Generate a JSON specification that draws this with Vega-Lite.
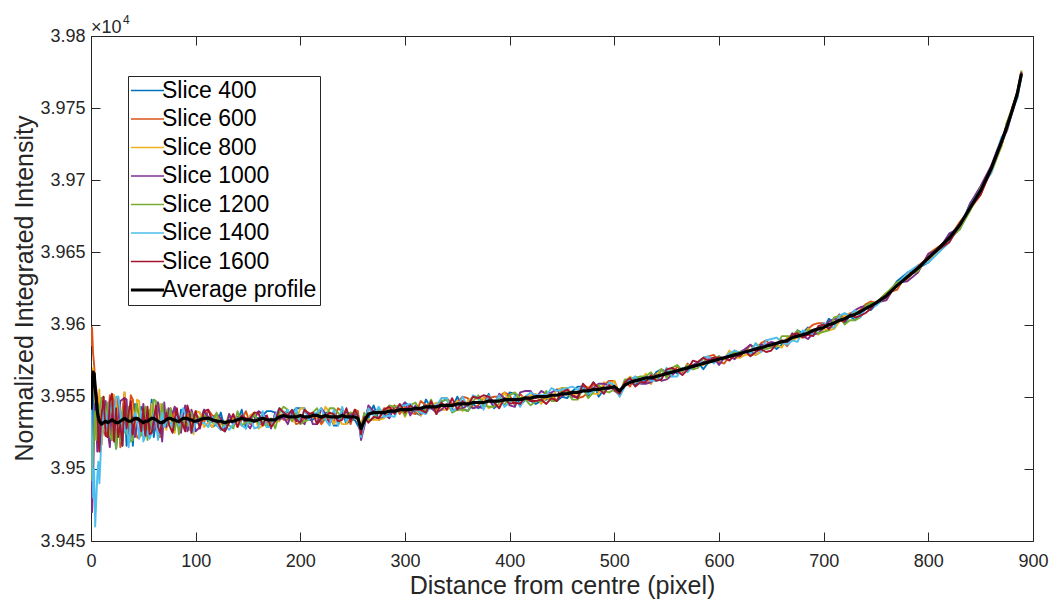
{
"$schema": "https://vega.github.io/schema/vega-lite/v6.json",
"width": 942, "height": 505,
"autosize": {"type": "none"},
"padding": {"left": 91, "top": 36, "right": 17, "bottom": 59},
"background": "white",
"config": {"font": "Liberation Sans", "view": {"stroke": "#262626", "strokeWidth": 1}, "axis": {"grid": false, "domain": false, "tickColor": "#262626", "tickWidth": 1, "labelColor": "#262626", "titleColor": "#262626", "labelFontSize": 18, "titleFontSize": 25, "titleFontWeight": "normal"}},
"data": {"values": [
{"x":0,"s400":39530,"s600":39585,"s800":39545,"s1000":39520,"s1200":39535,"s1400":39545,"s1600":39550,"avg":39541},
{"x":1,"s400":39515,"s600":39598,"s800":39560,"s1000":39470,"s1200":39492,"s1400":39520,"s1600":39565,"avg":39560},
{"x":2,"s400":39548,"s600":39580,"s800":39570,"s1000":39490,"s1200":39510,"s1400":39480,"s1600":39567,"avg":39567},
{"x":3,"s400":39560,"s600":39572,"s800":39555,"s1000":39530,"s1200":39525,"s1400":39500,"s1600":39566,"avg":39566},
{"x":4,"s400":39540,"s600":39560,"s800":39545,"s1000":39545,"s1200":39540,"s1400":39460,"s1600":39558,"avg":39556},
{"x":5,"s400":39525,"s600":39545,"s800":39530,"s1000":39535,"s1200":39520,"s1400":39478,"s1600":39555,"avg":39548},
{"x":6,"s400":39550,"s600":39538,"s800":39520,"s1000":39512,"s1200":39528,"s1400":39495,"s1600":39548,"avg":39540},
{"x":7,"s400":39530,"s600":39548,"s800":39540,"s1000":39520,"s1200":39545,"s1400":39505,"s1600":39520,"avg":39536},
{"x":8,"s400":39518,"s600":39530,"s800":39555,"s1000":39530,"s1200":39538,"s1400":39490,"s1600":39512,"avg":39533},
{"x":10,"s400":39517,"s600":39529,"s800":39517,"s1000":39533,"s1200":39549,"s1400":39521,"s1600":39537,"avg":39531},
{"x":12,"s400":39534,"s600":39526,"s800":39534,"s1000":39546,"s1200":39550,"s1400":39542,"s1600":39550,"avg":39532},
{"x":14,"s400":39527,"s600":39523,"s800":39527,"s1000":39547,"s1200":39531,"s1400":39539,"s1600":39523,"avg":39533},
{"x":16,"s400":39538,"s600":39530,"s800":39526,"s1000":39526,"s1200":39546,"s1400":39526,"s1600":39522,"avg":39532},
{"x":18,"s400":39543,"s600":39551,"s800":39535,"s1000":39515,"s1200":39523,"s1400":39547,"s1600":39547,"avg":39533},
{"x":20,"s400":39532,"s600":39520,"s800":39552,"s1000":39544,"s1200":39520,"s1400":39540,"s1600":39552,"avg":39534},
{"x":22,"s400":39527,"s600":39551,"s800":39551,"s1000":39527,"s1200":39543,"s1400":39535,"s1600":39519,"avg":39533},
{"x":24,"s400":39514,"s600":39534,"s800":39546,"s1000":39522,"s1200":39514,"s1400":39550,"s1600":39542,"avg":39532},
{"x":26,"s400":39530,"s600":39550,"s800":39530,"s1000":39530,"s1200":39534,"s1400":39550,"s1600":39522,"avg":39532},
{"x":28,"s400":39527,"s600":39515,"s800":39543,"s1000":39547,"s1200":39519,"s1400":39539,"s1600":39531,"avg":39533},
{"x":30,"s400":39516,"s600":39540,"s800":39524,"s1000":39548,"s1200":39540,"s1400":39524,"s1600":39516,"avg":39534},
{"x":32,"s400":39549,"s600":39553,"s800":39553,"s1000":39549,"s1200":39541,"s1400":39525,"s1600":39549,"avg":39535},
{"x":34,"s400":39516,"s600":39528,"s800":39532,"s1000":39548,"s1200":39524,"s1400":39536,"s1600":39528,"avg":39534},
{"x":36,"s400":39531,"s600":39523,"s800":39519,"s1000":39519,"s1200":39543,"s1400":39515,"s1600":39539,"avg":39533},
{"x":38,"s400":39543,"s600":39551,"s800":39547,"s1000":39523,"s1200":39519,"s1400":39531,"s1600":39547,"avg":39533},
{"x":40,"s400":39516,"s600":39548,"s800":39540,"s1000":39536,"s1200":39520,"s1400":39528,"s1600":39524,"avg":39534},
{"x":42,"s400":39545,"s600":39528,"s800":39531,"s1000":39522,"s1200":39539,"s1400":39539,"s1600":39534,"avg":39535},
{"x":44,"s400":39542,"s600":39522,"s800":39548,"s1000":39531,"s1200":39545,"s1400":39534,"s1600":39534,"avg":39535},
{"x":46,"s400":39538,"s600":39521,"s800":39547,"s1000":39535,"s1200":39535,"s1400":39521,"s1600":39535,"avg":39534},
{"x":48,"s400":39543,"s600":39526,"s800":39526,"s1000":39529,"s1200":39523,"s1400":39540,"s1600":39526,"avg":39533},
{"x":50,"s400":39533,"s600":39528,"s800":39533,"s1000":39545,"s1200":39531,"s1400":39519,"s1600":39542,"avg":39532},
{"x":52,"s400":39523,"s600":39526,"s800":39543,"s1000":39532,"s1200":39543,"s1400":39523,"s1600":39523,"avg":39533},
{"x":54,"s400":39523,"s600":39540,"s800":39532,"s1000":39534,"s1200":39520,"s1400":39526,"s1600":39543,"avg":39533},
{"x":56,"s400":39533,"s600":39524,"s800":39521,"s1000":39527,"s1200":39541,"s1400":39521,"s1600":39524,"avg":39534},
{"x":58,"s400":39548,"s600":39531,"s800":39545,"s1000":39536,"s1200":39528,"s1400":39525,"s1600":39525,"avg":39535},
{"x":60,"s400":39522,"s600":39536,"s800":39536,"s1000":39536,"s1200":39548,"s1400":39539,"s1600":39534,"avg":39535},
{"x":62,"s400":39533,"s600":39538,"s800":39527,"s1000":39527,"s1200":39547,"s1400":39533,"s1600":39544,"avg":39534},
{"x":64,"s400":39546,"s600":39534,"s800":39532,"s1000":39546,"s1200":39529,"s1400":39520,"s1600":39529,"avg":39533},
{"x":66,"s400":39542,"s600":39522,"s800":39545,"s1000":39536,"s1200":39531,"s1400":39531,"s1600":39525,"avg":39532},
{"x":68,"s400":39542,"s600":39542,"s800":39522,"s1000":39519,"s1200":39545,"s1400":39539,"s1600":39533,"avg":39532},
{"x":70,"s400":39537,"s600":39537,"s800":39534,"s1000":39546,"s1200":39529,"s1400":39529,"s1600":39532,"avg":39533},
{"x":72,"s400":39533,"s600":39537,"s800":39527,"s1000":39529,"s1200":39541,"s1400":39533,"s1600":39539,"avg":39534},
{"x":74,"s400":39536,"s600":39538,"s800":39534,"s1000":39542,"s1200":39530,"s1400":39532,"s1600":39532,"avg":39535},
{"x":76,"s400":39540,"s600":39542,"s800":39538,"s1000":39540,"s1200":39542,"s1400":39532,"s1600":39528,"avg":39535},
{"x":78,"s400":39537,"s600":39535,"s800":39529,"s1000":39539,"s1200":39527,"s1400":39529,"s1600":39525,"avg":39534},
{"x":80,"s400":39527,"s600":39543,"s800":39525,"s1000":39543,"s1200":39527,"s1400":39533,"s1600":39535,"avg":39534},
{"x":82,"s400":39536,"s600":39532,"s800":39540,"s1000":39534,"s1200":39536,"s1400":39536,"s1600":39542,"avg":39533},
{"x":84,"s400":39528,"s600":39530,"s800":39532,"s1000":39536,"s1200":39524,"s1400":39530,"s1600":39532,"avg":39533},
{"x":86,"s400":39541,"s600":39537,"s800":39527,"s1000":39525,"s1200":39533,"s1400":39535,"s1600":39533,"avg":39534},
{"x":88,"s400":39532,"s600":39530,"s800":39538,"s1000":39538,"s1200":39534,"s1400":39542,"s1600":39530,"avg":39535},
{"x":90,"s400":39528,"s600":39532,"s800":39532,"s1000":39544,"s1200":39532,"s1400":39538,"s1600":39526,"avg":39535},
{"x":92,"s400":39540,"s600":39530,"s800":39538,"s1000":39526,"s1200":39530,"s1400":39534,"s1600":39544,"avg":39535},
{"x":94,"s400":39527,"s600":39533,"s800":39527,"s1000":39529,"s1200":39539,"s1400":39531,"s1600":39539,"avg":39534},
{"x":96,"s400":39529,"s600":39533,"s800":39535,"s1000":39541,"s1200":39539,"s1400":39525,"s1600":39525,"avg":39534},
{"x":98,"s400":39536,"s600":39536,"s800":39524,"s1000":39536,"s1200":39530,"s1400":39526,"s1600":39534,"avg":39533},
{"x":100,"s400":39534,"s600":39540,"s800":39540,"s1000":39526,"s1200":39538,"s1400":39532,"s1600":39540,"avg":39533},
{"x":104,"s400":39533,"s600":39539,"s800":39539,"s1000":39529,"s1200":39535,"s1400":39531,"s1600":39528,"avg":39534},
{"x":108,"s400":39541,"s600":39532,"s800":39529,"s1000":39541,"s1200":39537,"s1400":39532,"s1600":39540,"avg":39535},
{"x":112,"s400":39532,"s600":39541,"s800":39532,"s1000":39536,"s1200":39534,"s1400":39529,"s1600":39541,"avg":39535},
{"x":116,"s400":39529,"s600":39537,"s800":39529,"s1000":39535,"s1200":39532,"s1400":39536,"s1600":39533,"avg":39534},
{"x":120,"s400":39531,"s600":39535,"s800":39536,"s1000":39538,"s1200":39539,"s1400":39530,"s1600":39534,"avg":39533},
{"x":124,"s400":39539,"s600":39527,"s800":39531,"s1000":39535,"s1200":39527,"s1400":39527,"s1600":39528,"avg":39533},
{"x":128,"s400":39527,"s600":39530,"s800":39530,"s1000":39526,"s1200":39533,"s1400":39530,"s1600":39526,"avg":39532},
{"x":132,"s400":39534,"s600":39532,"s800":39538,"s1000":39538,"s1200":39530,"s1400":39527,"s1600":39532,"avg":39533},
{"x":136,"s400":39535,"s600":39535,"s800":39534,"s1000":39530,"s1200":39528,"s1400":39531,"s1600":39538,"avg":39533},
{"x":140,"s400":39533,"s600":39529,"s800":39533,"s1000":39536,"s1200":39540,"s1400":39535,"s1600":39529,"avg":39534},
{"x":144,"s400":39541,"s600":39534,"s800":39530,"s1000":39536,"s1200":39530,"s1400":39530,"s1600":39537,"avg":39535},
{"x":148,"s400":39528,"s600":39540,"s800":39533,"s1000":39532,"s1200":39532,"s1400":39528,"s1600":39535,"avg":39534},
{"x":152,"s400":39537,"s600":39531,"s800":39537,"s1000":39528,"s1200":39532,"s1400":39536,"s1600":39535,"avg":39534},
{"x":156,"s400":39536,"s600":39534,"s800":39539,"s1000":39534,"s1200":39539,"s1400":39528,"s1600":39539,"avg":39533},
{"x":160,"s400":39535,"s600":39532,"s800":39528,"s1000":39540,"s1200":39531,"s1400":39529,"s1600":39539,"avg":39534},
{"x":164,"s400":39537,"s600":39530,"s800":39530,"s1000":39538,"s1200":39533,"s1400":39540,"s1600":39530,"avg":39535},
{"x":168,"s400":39540,"s600":39532,"s800":39531,"s1000":39536,"s1200":39529,"s1400":39529,"s1600":39537,"avg":39534},
{"x":172,"s400":39540,"s600":39532,"s800":39529,"s1000":39528,"s1200":39535,"s1400":39529,"s1600":39529,"avg":39534},
{"x":176,"s400":39539,"s600":39535,"s800":39533,"s1000":39539,"s1200":39528,"s1400":39537,"s1600":39533,"avg":39534},
{"x":180,"s400":39535,"s600":39538,"s800":39533,"s1000":39534,"s1200":39539,"s1400":39542,"s1600":39542,"avg":39536},
{"x":184,"s400":39539,"s600":39534,"s800":39540,"s1000":39536,"s1200":39543,"s1400":39538,"s1600":39539,"avg":39537},
{"x":188,"s400":39539,"s600":39534,"s800":39537,"s1000":39531,"s1200":39541,"s1400":39541,"s1600":39537,"avg":39536},
{"x":192,"s400":39539,"s600":39537,"s800":39533,"s1000":39539,"s1200":39533,"s1400":39535,"s1600":39541,"avg":39536},
{"x":196,"s400":39542,"s600":39531,"s800":39533,"s1000":39533,"s1200":39539,"s1400":39542,"s1600":39534,"avg":39536},
{"x":200,"s400":39542,"s600":39532,"s800":39542,"s1000":39535,"s1200":39531,"s1400":39532,"s1600":39532,"avg":39537},
{"x":204,"s400":39542,"s600":39535,"s800":39542,"s1000":39531,"s1200":39533,"s1400":39542,"s1600":39541,"avg":39536},
{"x":208,"s400":39534,"s600":39534,"s800":39538,"s1000":39539,"s1200":39534,"s1400":39534,"s1600":39538,"avg":39536},
{"x":212,"s400":39534,"s600":39536,"s800":39536,"s1000":39531,"s1200":39539,"s1400":39538,"s1600":39539,"avg":39537},
{"x":216,"s400":39539,"s600":39536,"s800":39535,"s1000":39531,"s1200":39542,"s1400":39539,"s1600":39531,"avg":39537},
{"x":220,"s400":39533,"s600":39531,"s800":39534,"s1000":39542,"s1200":39535,"s1400":39542,"s1600":39535,"avg":39536},
{"x":224,"s400":39539,"s600":39535,"s800":39543,"s1000":39538,"s1200":39534,"s1400":39534,"s1600":39536,"avg":39537},
{"x":228,"s400":39539,"s600":39534,"s800":39539,"s1000":39531,"s1200":39542,"s1400":39530,"s1600":39539,"avg":39536},
{"x":232,"s400":39530,"s600":39533,"s800":39531,"s1000":39539,"s1200":39542,"s1400":39541,"s1600":39538,"avg":39536},
{"x":236,"s400":39530,"s600":39542,"s800":39535,"s1000":39534,"s1200":39539,"s1400":39530,"s1600":39533,"avg":39536},
{"x":240,"s400":39540,"s600":39540,"s800":39531,"s1000":39538,"s1200":39535,"s1400":39543,"s1600":39534,"avg":39537},
{"x":244,"s400":39531,"s600":39539,"s800":39531,"s1000":39539,"s1200":39538,"s1400":39533,"s1600":39542,"avg":39536},
{"x":248,"s400":39534,"s600":39531,"s800":39539,"s1000":39538,"s1200":39539,"s1400":39537,"s1600":39533,"avg":39536},
{"x":252,"s400":39534,"s600":39541,"s800":39535,"s1000":39538,"s1200":39539,"s1400":39535,"s1600":39541,"avg":39536},
{"x":255,"s400":39530,"s600":39540,"s800":39534,"s1000":39537,"s1200":39538,"s1400":39537,"s1600":39537,"avg":39535},
{"x":258,"s400":39526,"s600":39522,"s800":39531,"s1000":39520,"s1200":39526,"s1400":39522,"s1600":39524,"avg":39528},
{"x":261,"s400":39537,"s600":39530,"s800":39538,"s1000":39529,"s1200":39539,"s1400":39531,"s1600":39536,"avg":39533},
{"x":265,"s400":39535,"s600":39543,"s800":39534,"s1000":39544,"s1200":39533,"s1400":39542,"s1600":39532,"avg":39538},
{"x":270,"s400":39544,"s600":39538,"s800":39534,"s1000":39540,"s1200":39535,"s1400":39537,"s1600":39536,"avg":39539},
{"x":275,"s400":39534,"s600":39534,"s800":39534,"s1000":39540,"s1200":39541,"s1400":39543,"s1600":39535,"avg":39539},
{"x":280,"s400":39536,"s600":39542,"s800":39535,"s1000":39538,"s1200":39540,"s1400":39536,"s1600":39541,"avg":39539},
{"x":285,"s400":39538,"s600":39541,"s800":39542,"s1000":39535,"s1200":39544,"s1400":39537,"s1600":39543,"avg":39540},
{"x":290,"s400":39543,"s600":39544,"s800":39541,"s1000":39543,"s1200":39543,"s1400":39536,"s1600":39538,"avg":39540},
{"x":295,"s400":39540,"s600":39538,"s800":39544,"s1000":39542,"s1200":39544,"s1400":39544,"s1600":39545,"avg":39541},
{"x":300,"s400":39546,"s600":39543,"s800":39536,"s1000":39546,"s1200":39537,"s1400":39544,"s1600":39539,"avg":39541},
{"x":305,"s400":39543,"s600":39539,"s800":39544,"s1000":39537,"s1200":39544,"s1400":39545,"s1600":39544,"avg":39541},
{"x":310,"s400":39539,"s600":39538,"s800":39541,"s1000":39544,"s1200":39546,"s1400":39541,"s1600":39541,"avg":39542},
{"x":315,"s400":39537,"s600":39547,"s800":39537,"s1000":39538,"s1200":39539,"s1400":39539,"s1600":39541,"avg":39542},
{"x":320,"s400":39548,"s600":39544,"s800":39541,"s1000":39542,"s1200":39541,"s1400":39538,"s1600":39539,"avg":39543},
{"x":325,"s400":39542,"s600":39545,"s800":39544,"s1000":39542,"s1200":39548,"s1400":39544,"s1600":39547,"avg":39543},
{"x":330,"s400":39544,"s600":39541,"s800":39546,"s1000":39539,"s1200":39538,"s1400":39544,"s1600":39538,"avg":39543},
{"x":335,"s400":39547,"s600":39549,"s800":39541,"s1000":39541,"s1200":39547,"s1400":39549,"s1600":39546,"avg":39544},
{"x":340,"s400":39548,"s600":39549,"s800":39541,"s1000":39545,"s1200":39548,"s1400":39549,"s1600":39541,"avg":39544},
{"x":345,"s400":39542,"s600":39545,"s800":39543,"s1000":39541,"s1200":39539,"s1400":39540,"s1600":39549,"avg":39544},
{"x":350,"s400":39550,"s600":39546,"s800":39547,"s1000":39541,"s1200":39541,"s1400":39542,"s1600":39541,"avg":39545},
{"x":355,"s400":39542,"s600":39550,"s800":39540,"s1000":39542,"s1200":39541,"s1400":39550,"s1600":39547,"avg":39545},
{"x":360,"s400":39540,"s600":39549,"s800":39547,"s1000":39544,"s1200":39540,"s1400":39543,"s1600":39544,"avg":39545},
{"x":365,"s400":39545,"s600":39542,"s800":39550,"s1000":39542,"s1200":39547,"s1400":39551,"s1600":39550,"avg":39546},
{"x":370,"s400":39542,"s600":39544,"s800":39548,"s1000":39543,"s1200":39551,"s1400":39549,"s1600":39549,"avg":39546},
{"x":375,"s400":39545,"s600":39549,"s800":39549,"s1000":39542,"s1200":39544,"s1400":39541,"s1600":39551,"avg":39546},
{"x":380,"s400":39552,"s600":39549,"s800":39542,"s1000":39548,"s1200":39543,"s1400":39551,"s1600":39550,"avg":39547},
{"x":385,"s400":39542,"s600":39550,"s800":39544,"s1000":39543,"s1200":39543,"s1400":39545,"s1600":39546,"avg":39547},
{"x":390,"s400":39545,"s600":39550,"s800":39544,"s1000":39552,"s1200":39550,"s1400":39551,"s1600":39542,"avg":39547},
{"x":395,"s400":39547,"s600":39553,"s800":39553,"s1000":39549,"s1200":39544,"s1400":39543,"s1600":39549,"avg":39548},
{"x":400,"s400":39553,"s600":39551,"s800":39546,"s1000":39544,"s1200":39551,"s1400":39546,"s1600":39545,"avg":39548},
{"x":405,"s400":39552,"s600":39544,"s800":39550,"s1000":39543,"s1200":39553,"s1400":39550,"s1600":39546,"avg":39548},
{"x":410,"s400":39544,"s600":39552,"s800":39549,"s1000":39553,"s1200":39549,"s1400":39543,"s1600":39545,"avg":39548},
{"x":415,"s400":39548,"s600":39548,"s800":39550,"s1000":39554,"s1200":39548,"s1400":39550,"s1600":39550,"avg":39549},
{"x":420,"s400":39547,"s600":39548,"s800":39551,"s1000":39554,"s1200":39544,"s1400":39553,"s1600":39547,"avg":39549},
{"x":425,"s400":39545,"s600":39547,"s800":39552,"s1000":39549,"s1200":39547,"s1400":39551,"s1600":39547,"avg":39550},
{"x":430,"s400":39547,"s600":39548,"s800":39545,"s1000":39554,"s1200":39547,"s1400":39551,"s1600":39548,"avg":39550},
{"x":435,"s400":39548,"s600":39549,"s800":39549,"s1000":39552,"s1200":39554,"s1400":39551,"s1600":39545,"avg":39550},
{"x":440,"s400":39549,"s600":39552,"s800":39548,"s1000":39553,"s1200":39547,"s1400":39556,"s1600":39549,"avg":39551},
{"x":445,"s400":39547,"s600":39547,"s800":39555,"s1000":39555,"s1200":39547,"s1400":39554,"s1600":39547,"avg":39551},
{"x":450,"s400":39550,"s600":39555,"s800":39556,"s1000":39550,"s1200":39556,"s1400":39555,"s1600":39553,"avg":39552},
{"x":455,"s400":39549,"s600":39556,"s800":39556,"s1000":39554,"s1200":39553,"s1400":39556,"s1600":39555,"avg":39552},
{"x":460,"s400":39554,"s600":39551,"s800":39551,"s1000":39550,"s1200":39548,"s1400":39557,"s1600":39551,"avg":39553},
{"x":465,"s400":39557,"s600":39549,"s800":39552,"s1000":39550,"s1200":39548,"s1400":39555,"s1600":39549,"avg":39553},
{"x":470,"s400":39557,"s600":39550,"s800":39557,"s1000":39557,"s1200":39556,"s1400":39556,"s1600":39559,"avg":39554},
{"x":475,"s400":39550,"s600":39553,"s800":39557,"s1000":39552,"s1200":39549,"s1400":39552,"s1600":39555,"avg":39554},
{"x":480,"s400":39560,"s600":39559,"s800":39552,"s1000":39556,"s1200":39553,"s1400":39554,"s1600":39560,"avg":39555},
{"x":485,"s400":39550,"s600":39554,"s800":39552,"s1000":39559,"s1200":39558,"s1400":39556,"s1600":39556,"avg":39555},
{"x":490,"s400":39555,"s600":39558,"s800":39560,"s1000":39559,"s1200":39554,"s1400":39552,"s1600":39552,"avg":39556},
{"x":495,"s400":39557,"s600":39561,"s800":39557,"s1000":39558,"s1200":39553,"s1400":39560,"s1600":39558,"avg":39556},
{"x":500,"s400":39555,"s600":39561,"s800":39561,"s1000":39554,"s1200":39555,"s1400":39558,"s1600":39555,"avg":39557},
{"x":505,"s400":39551,"s600":39552,"s800":39550,"s1000":39552,"s1200":39551,"s1400":39550,"s1600":39552,"avg":39554},
{"x":510,"s400":39560,"s600":39561,"s800":39560,"s1000":39558,"s1200":39562,"s1400":39557,"s1600":39560,"avg":39558},
{"x":515,"s400":39560,"s600":39557,"s800":39564,"s1000":39560,"s1200":39562,"s1400":39562,"s1600":39563,"avg":39560},
{"x":520,"s400":39558,"s600":39564,"s800":39561,"s1000":39563,"s1200":39563,"s1400":39564,"s1600":39557,"avg":39561},
{"x":525,"s400":39562,"s600":39561,"s800":39560,"s1000":39559,"s1200":39564,"s1400":39559,"s1600":39560,"avg":39562},
{"x":530,"s400":39561,"s600":39564,"s800":39566,"s1000":39559,"s1200":39564,"s1400":39564,"s1600":39560,"avg":39563},
{"x":535,"s400":39562,"s600":39559,"s800":39559,"s1000":39560,"s1200":39567,"s1400":39561,"s1600":39565,"avg":39563},
{"x":540,"s400":39567,"s600":39566,"s800":39565,"s1000":39565,"s1200":39561,"s1400":39561,"s1600":39561,"avg":39564},
{"x":545,"s400":39569,"s600":39565,"s800":39569,"s1000":39561,"s1200":39569,"s1400":39563,"s1600":39562,"avg":39565},
{"x":550,"s400":39567,"s600":39566,"s800":39564,"s1000":39562,"s1200":39563,"s1400":39570,"s1600":39569,"avg":39566},
{"x":555,"s400":39569,"s600":39564,"s800":39570,"s1000":39565,"s1200":39570,"s1400":39564,"s1600":39570,"avg":39567},
{"x":560,"s400":39566,"s600":39571,"s800":39568,"s1000":39568,"s1200":39572,"s1400":39564,"s1600":39568,"avg":39568},
{"x":565,"s400":39569,"s600":39567,"s800":39568,"s1000":39569,"s1200":39568,"s1400":39570,"s1600":39565,"avg":39569},
{"x":570,"s400":39568,"s600":39573,"s800":39572,"s1000":39570,"s1200":39572,"s1400":39567,"s1600":39569,"avg":39570},
{"x":575,"s400":39571,"s600":39569,"s800":39572,"s1000":39572,"s1200":39569,"s1400":39571,"s1600":39575,"avg":39571},
{"x":580,"s400":39574,"s600":39574,"s800":39572,"s1000":39574,"s1200":39570,"s1400":39572,"s1600":39574,"avg":39572},
{"x":585,"s400":39569,"s600":39577,"s800":39572,"s1000":39574,"s1200":39577,"s1400":39577,"s1600":39577,"avg":39573},
{"x":590,"s400":39574,"s600":39578,"s800":39574,"s1000":39576,"s1200":39574,"s1400":39578,"s1600":39575,"avg":39574},
{"x":595,"s400":39576,"s600":39579,"s800":39576,"s1000":39577,"s1200":39576,"s1400":39573,"s1600":39577,"avg":39575},
{"x":600,"s400":39578,"s600":39574,"s800":39576,"s1000":39572,"s1200":39578,"s1400":39577,"s1600":39577,"avg":39576},
{"x":605,"s400":39576,"s600":39573,"s800":39576,"s1000":39577,"s1200":39576,"s1400":39577,"s1600":39577,"avg":39577},
{"x":610,"s400":39580,"s600":39578,"s800":39582,"s1000":39578,"s1200":39578,"s1400":39580,"s1600":39575,"avg":39578},
{"x":615,"s400":39578,"s600":39582,"s800":39577,"s1000":39576,"s1200":39581,"s1400":39582,"s1600":39579,"avg":39579},
{"x":620,"s400":39578,"s600":39580,"s800":39577,"s1000":39581,"s1200":39581,"s1400":39580,"s1600":39578,"avg":39580},
{"x":625,"s400":39583,"s600":39581,"s800":39579,"s1000":39583,"s1200":39581,"s1400":39582,"s1600":39582,"avg":39581},
{"x":630,"s400":39581,"s600":39586,"s800":39579,"s1000":39586,"s1200":39581,"s1400":39580,"s1600":39578,"avg":39582},
{"x":635,"s400":39579,"s600":39582,"s800":39579,"s1000":39583,"s1200":39587,"s1400":39587,"s1600":39581,"avg":39583},
{"x":640,"s400":39581,"s600":39587,"s800":39581,"s1000":39586,"s1200":39584,"s1400":39581,"s1600":39583,"avg":39584},
{"x":645,"s400":39585,"s600":39589,"s800":39586,"s1000":39586,"s1200":39583,"s1400":39589,"s1600":39581,"avg":39585},
{"x":650,"s400":39586,"s600":39585,"s800":39586,"s1000":39588,"s1200":39584,"s1400":39590,"s1600":39582,"avg":39586},
{"x":655,"s400":39583,"s600":39586,"s800":39586,"s1000":39587,"s1200":39585,"s1400":39591,"s1600":39587,"avg":39587},
{"x":660,"s400":39586,"s600":39589,"s800":39584,"s1000":39588,"s1200":39592,"s1400":39588,"s1600":39589,"avg":39588},
{"x":665,"s400":39588,"s600":39585,"s800":39591,"s1000":39588,"s1200":39592,"s1400":39586,"s1600":39588,"avg":39589},
{"x":670,"s400":39589,"s600":39590,"s800":39589,"s1000":39594,"s1200":39592,"s1400":39589,"s1600":39593,"avg":39591},
{"x":675,"s400":39596,"s600":39592,"s800":39591,"s1000":39592,"s1200":39596,"s1400":39588,"s1600":39594,"avg":39592},
{"x":680,"s400":39594,"s600":39592,"s800":39591,"s1000":39592,"s1200":39592,"s1400":39596,"s1600":39591,"avg":39593},
{"x":685,"s400":39598,"s600":39597,"s800":39597,"s1000":39590,"s1200":39596,"s1400":39594,"s1600":39593,"avg":39594},
{"x":690,"s400":39593,"s600":39600,"s800":39596,"s1000":39594,"s1200":39596,"s1400":39593,"s1600":39592,"avg":39596},
{"x":695,"s400":39594,"s600":39601,"s800":39593,"s1000":39594,"s1200":39594,"s1400":39597,"s1600":39599,"avg":39597},
{"x":700,"s400":39597,"s600":39601,"s800":39597,"s1000":39598,"s1200":39595,"s1400":39601,"s1600":39600,"avg":39598},
{"x":705,"s400":39604,"s600":39599,"s800":39596,"s1000":39602,"s1200":39596,"s1400":39598,"s1600":39597,"avg":39600},
{"x":710,"s400":39601,"s600":39601,"s800":39597,"s1000":39604,"s1200":39605,"s1400":39598,"s1600":39601,"avg":39601},
{"x":715,"s400":39607,"s600":39607,"s800":39602,"s1000":39603,"s1200":39606,"s1400":39606,"s1600":39603,"avg":39603},
{"x":720,"s400":39601,"s600":39605,"s800":39606,"s1000":39604,"s1200":39600,"s1400":39608,"s1600":39602,"avg":39604},
{"x":725,"s400":39606,"s600":39606,"s800":39608,"s1000":39607,"s1200":39603,"s1400":39606,"s1600":39607,"avg":39606},
{"x":730,"s400":39603,"s600":39608,"s800":39608,"s1000":39610,"s1200":39603,"s1400":39610,"s1600":39605,"avg":39607},
{"x":735,"s400":39607,"s600":39610,"s800":39609,"s1000":39612,"s1200":39605,"s1400":39605,"s1600":39606,"avg":39609},
{"x":740,"s400":39612,"s600":39614,"s800":39611,"s1000":39613,"s1200":39613,"s1400":39611,"s1600":39608,"avg":39611},
{"x":745,"s400":39610,"s600":39616,"s800":39613,"s1000":39612,"s1200":39615,"s1400":39613,"s1600":39611,"avg":39613},
{"x":750,"s400":39614,"s600":39615,"s800":39615,"s1000":39615,"s1200":39615,"s1400":39613,"s1600":39615,"avg":39615},
{"x":760,"s400":39619,"s600":39622,"s800":39617,"s1000":39617,"s1200":39622,"s1400":39620,"s1600":39619,"avg":39620},
{"x":770,"s400":39630,"s600":39624,"s800":39629,"s1000":39629,"s1200":39629,"s1400":39627,"s1600":39627,"avg":39627},
{"x":780,"s400":39636,"s600":39636,"s800":39631,"s1000":39630,"s1200":39634,"s1400":39636,"s1600":39633,"avg":39633},
{"x":790,"s400":39639,"s600":39636,"s800":39641,"s1000":39636,"s1200":39637,"s1400":39641,"s1600":39640,"avg":39639},
{"x":800,"s400":39643,"s600":39649,"s800":39645,"s1000":39649,"s1200":39647,"s1400":39643,"s1600":39647,"avg":39646},
{"x":810,"s400":39651,"s600":39654,"s800":39650,"s1000":39652,"s1200":39652,"s1400":39650,"s1600":39652,"avg":39653},
{"x":820,"s400":39663,"s600":39660,"s800":39660,"s1000":39663,"s1200":39659,"s1400":39657,"s1600":39657,"avg":39660},
{"x":830,"s400":39666,"s600":39671,"s800":39669,"s1000":39667,"s1200":39666,"s1400":39669,"s1600":39669,"avg":39669},
{"x":840,"s400":39684,"s600":39680,"s800":39680,"s1000":39684,"s1200":39679,"s1400":39682,"s1600":39681,"avg":39681},
{"x":850,"s400":39694,"s600":39690,"s800":39691,"s1000":39696,"s1200":39695,"s1400":39694,"s1600":39690,"avg":39693},
{"x":860,"s400":39709,"s600":39710,"s800":39707,"s1000":39710,"s1200":39705,"s1400":39705,"s1600":39707,"avg":39708},
{"x":870,"s400":39725,"s600":39724,"s800":39724,"s1000":39729,"s1200":39724,"s1400":39730,"s1600":39726,"avg":39727},
{"x":875,"s400":39735,"s600":39740,"s800":39739,"s1000":39734,"s1200":39740,"s1400":39734,"s1600":39735,"avg":39737},
{"x":880,"s400":39750,"s600":39748,"s800":39748,"s1000":39747,"s1200":39750,"s1400":39748,"s1600":39750,"avg":39748},
{"x":885,"s400":39757,"s600":39760,"s800":39762,"s1000":39758,"s1200":39759,"s1400":39757,"s1600":39761,"avg":39760},
{"x":889,"s400":39775,"s600":39772,"s800":39776,"s1000":39773,"s1200":39776,"s1400":39772,"s1600":39775,"avg":39774}
]},
"transform": [{"fold": ["s400", "s600", "s800", "s1000", "s1200", "s1400", "s1600", "avg"], "as": ["series", "value"]}],
"layer": [
{
"mark": {"type": "line", "strokeJoin": "round", "clip": true},
"encoding": {
"x": {"field": "x", "type": "quantitative", "scale": {"domain": [0, 900], "nice": false},
"axis": {"orient": "bottom", "values": [0,100,200,300,400,500,600,700,800,900], "tickSize": -9, "labelPadding": 20, "labelFlush": false, "labelOverlap": false, "title": "Distance from centre (pixel)", "titleY": 52, "titleBaseline": "alphabetic"}},
"y": {"field": "value", "type": "quantitative", "scale": {"domain": [39450, 39800], "nice": false, "zero": false},
"axis": {"orient": "left", "values": [39450,39500,39550,39600,39650,39700,39750,39800], "labelExpr": "format(datum.value/10000, '.4~f')", "tickSize": -9, "labelPadding": 15, "labelFlush": false, "labelOverlap": false, "title": "Normalized Integrated Intensity", "titleX": -59, "titleY": 252, "titleBaseline": "alphabetic", "titleAlign": "center", "titleAngle": -90}},
"color": {"field": "series", "type": "nominal",
"scale": {"domain": ["s400", "s600", "s800", "s1000", "s1200", "s1400", "s1600", "avg"], "range": ["#0072BD", "#D95319", "#EDB120", "#7E2F8E", "#77AC30", "#4DBEEE", "#A2142F", "#000000"]},
"legend": {"orient": "none", "legendX": 37, "legendY": 40, "title": null, "symbolType": "stroke", "symbolSize": 1100, "symbolOffset": 5, "labelFontSize": 23, "labelColor": "#000000", "labelOffset": 3, "labelLimit": 300, "padding": 3, "rowPadding": 4.5, "strokeColor": "#262626", "fillColor": "white",
"labelExpr": "datum.label == 'avg' ? 'Average profile' : 'Slice ' + substring(datum.label, 1)",
"encode": {"symbols": {"update": {"strokeWidth": {"signal": "datum.value == 'avg' ? 3 : 1.6"}}}}}},
"strokeWidth": {"condition": {"test": "datum.series == 'avg'", "value": 3.2}, "value": 1.9}
}
},
{
"mark": {"type": "point", "opacity": 0},
"encoding": {
"x": {"field": "x", "type": "quantitative", "axis": {"orient": "top", "values": [0,100,200,300,400,500,600,700,800,900], "tickSize": -9, "labels": false, "title": null}},
"y": {"field": "value", "type": "quantitative", "axis": {"orient": "right", "values": [39450,39500,39550,39600,39650,39700,39750,39800], "tickSize": -9, "labels": false, "title": null}}
}
},
{
"data": {"values": [{"t": "×10"}]},
"mark": {"type": "text", "align": "left", "baseline": "alphabetic", "fontSize": 18, "color": "#262626", "dx": 0, "dy": -3},
"encoding": {
"x": {"datum": 0, "type": "quantitative", "axis": null},
"y": {"datum": 39800, "type": "quantitative", "axis": null},
"text": {"field": "t"}
}
},
{
"data": {"values": [{"t": "4"}]},
"mark": {"type": "text", "align": "left", "baseline": "alphabetic", "fontSize": 12, "color": "#262626", "dx": 32, "dy": -12},
"encoding": {
"x": {"datum": 0, "type": "quantitative", "axis": null},
"y": {"datum": 39800, "type": "quantitative", "axis": null},
"text": {"field": "t"}
}
}
],
"resolve": {"axis": {"x": "independent", "y": "independent"}}
}
